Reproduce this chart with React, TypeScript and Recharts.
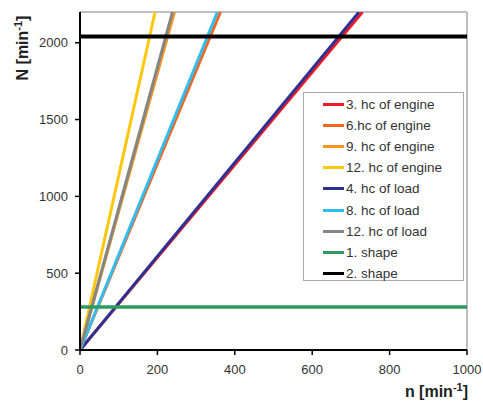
import { LineChart, Line, XAxis, YAxis, ReferenceLine, Legend } from 'recharts';

// end points: each line runs from the origin to where it leaves the top
const engine3 = [{ n: 0, N: 0 }, { n: 730, N: 2200 }];
const engine6 = [{ n: 0, N: 0 }, { n: 363, N: 2200 }];
const engine9 = [{ n: 0, N: 0 }, { n: 244, N: 2200 }];
const engine12 = [{ n: 0, N: 0 }, { n: 194, N: 2200 }];
const load4 = [{ n: 0, N: 0 }, { n: 721, N: 2200 }];
const load8 = [{ n: 0, N: 0 }, { n: 355, N: 2200 }];
const load12 = [{ n: 0, N: 0 }, { n: 239, N: 2200 }];
const shape1 = [{ n: 0, N: 280 }, { n: 1000, N: 280 }];
const shape2 = [{ n: 0, N: 2040 }, { n: 1000, N: 2040 }];

const xTicks = [0, 200, 400, 600, 800, 1000];
const yTicks = [0, 500, 1000, 1500, 2000];

const series = [
  { name: '3. hc of engine', data: engine3, color: '#ee1c25', width: 3 },
  { name: '6.hc of engine', data: engine6, color: '#f26522', width: 3 },
  { name: '9. hc of engine', data: engine9, color: '#f7941d', width: 3 },
  { name: '12. hc of engine', data: engine12, color: '#fdc70f', width: 3 },
  { name: '4. hc of load', data: load4, color: '#2e3192', width: 3 },
  { name: '8. hc of load', data: load8, color: '#33bdef', width: 3 },
  { name: '12. hc of load', data: load12, color: '#858585', width: 3 },
  { name: '1. shape', data: shape1, color: '#2e9b5e', width: 3.5 },
  { name: '2. shape', data: shape2, color: '#000000', width: 4 },
];

const font = '"Liberation Sans", Arial, sans-serif';

function LegendBox() {
  return (
    <div style={{ border: '1px solid #aaa', background: '#fff', width: 161, height: 189, boxSizing: 'border-box', padding: '1px 0 0 19px', fontFamily: font, fontSize: 13.5, color: '#333' }}>
      {series.map((s) => (
        <div key={s.name} style={{ display: 'flex', alignItems: 'center', height: 21.1 }}>
          <span style={{ display: 'inline-block', width: 21, height: 3, background: s.color, marginRight: 2 }} />
          <span>{s.name}</span>
        </div>
      ))}
    </div>
  );
}

export default function App() {
  return (
    <div style={{ position: 'absolute', left: 0, top: 0, width: 483, height: 402, background: '#fff' }}>
      <LineChart width={483} height={402} margin={{ top: 12, right: 16, bottom: 0, left: 0 }}>
        <XAxis
          type="number"
          dataKey="n"
          domain={[0, 1000]}
          ticks={xTicks}
          allowDataOverflow
          height={52}
          tickSize={5}
          axisLine={{ stroke: '#000', strokeWidth: 2 }}
          tickLine={{ stroke: '#000', strokeWidth: 1.5 }}
          tick={{ fill: '#333', fontSize: 13, fontFamily: font }}
          tickMargin={10}
        />
        <YAxis
          type="number"
          dataKey="N"
          domain={[0, 2200]}
          ticks={yTicks}
          allowDataOverflow
          width={80}
          tickSize={5}
          axisLine={{ stroke: '#000', strokeWidth: 2 }}
          tickLine={{ stroke: '#000', strokeWidth: 1.5 }}
          tick={{ fill: '#333', fontSize: 13, fontFamily: font }}
          tickMargin={7}
        />
        <ReferenceLine y={2200} stroke="#aaa" strokeWidth={1.5} />
        <ReferenceLine x={1000} stroke="#aaa" strokeWidth={1.5} />
        {series.map((s) => (
          <Line
            key={s.name}
            name={s.name}
            data={s.data}
            dataKey="N"
            stroke={s.color}
            strokeWidth={s.width}
            dot={false}
            activeDot={false}
            isAnimationActive={false}
          />
        ))}
        <Legend
          layout="horizontal"
          verticalAlign="middle"
          align="center"
          content={() => <LegendBox />}
          wrapperStyle={{ left: 303, top: 92, width: 161, height: 189 }}
        />
        <text x={28} y={48} transform="rotate(-90 28 48)" textAnchor="middle" fontFamily={font} fontWeight="bold" fontSize={16} fill="#222">
          N [min<tspan fontSize={11} dy={-6}>-1</tspan><tspan dy={6}>]</tspan>
        </text>
        <text x={468} y={397} textAnchor="end" fontFamily={font} fontWeight="bold" fontSize={16} fill="#222">
          n [min<tspan fontSize={11} dy={-6}>-1</tspan><tspan dy={6}>]</tspan>
        </text>
      </LineChart>
    </div>
  );
}
